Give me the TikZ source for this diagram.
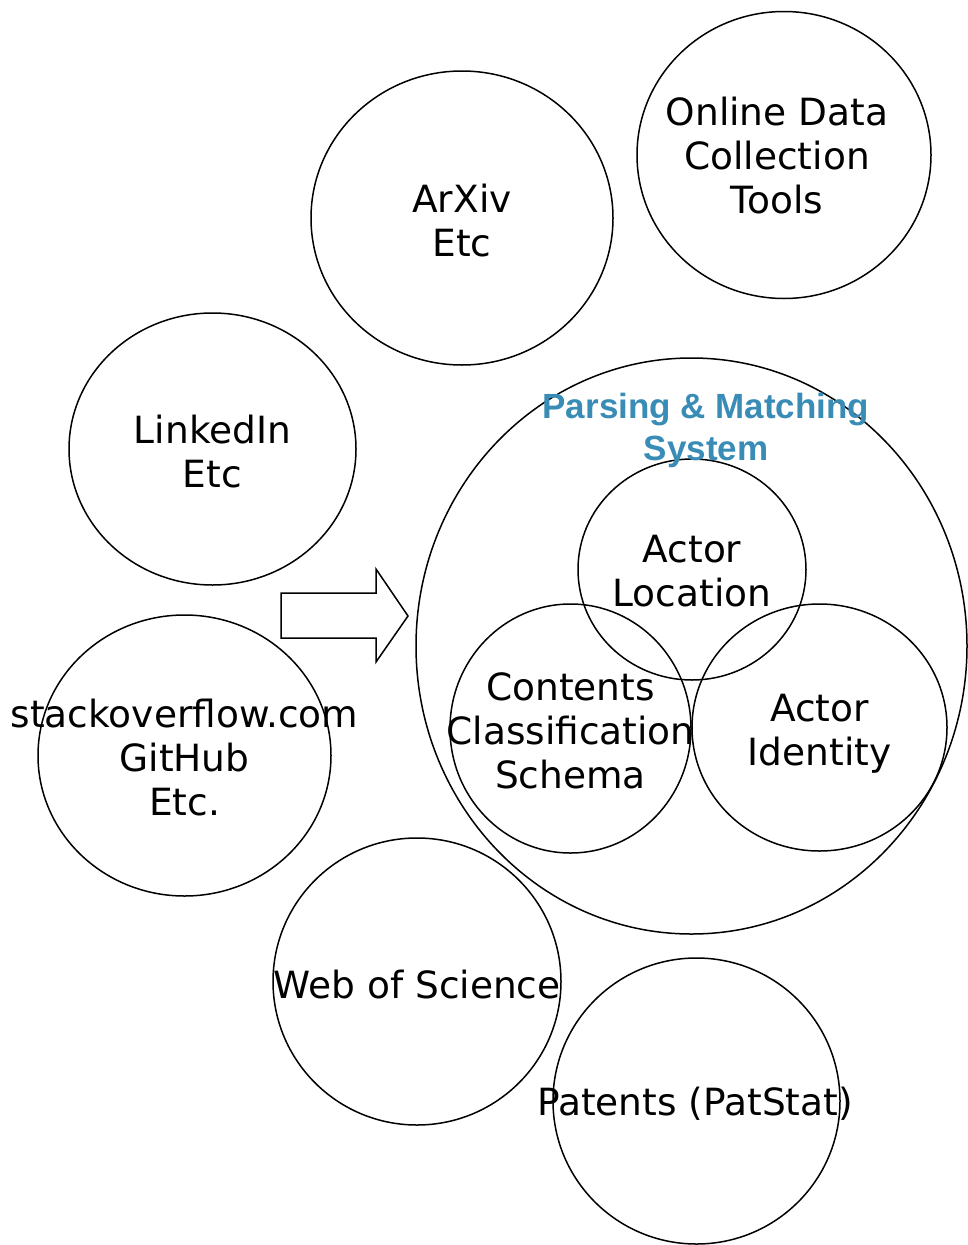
\documentclass[tikz,border=0pt]{standalone}
\usepackage{fontspec}
\setmainfont{DejaVu Sans}
\newfontfamily\headfont{Liberation Sans}
\usetikzlibrary{shapes.geometric}
\definecolor{headblue}{RGB}{57,140,181}
\tikzset{
	bubble/.style = {draw, ellipse, line width = 1.5pt, inner sep = 0pt},
	bubbletext/.style = {font = \fontsize{37.5}{44}\selectfont, align = center, inner sep = 0pt},
	headtext/.style = {font = \headfont\bfseries\fontsize{35}{42}\selectfont, text = headblue, align = center, inner sep = 0pt}
}
\begin{document}
\begin{tikzpicture}[x = 1pt, y = -1pt]
				\useasboundingbox (0, 0) rectangle (967, 1245);
				
				% circles
				\node[bubble, minimum width = 302, minimum height = 294] (arxiv) at (462, 218) {};
				\node[bubble, minimum width = 294, minimum height = 287] (online) at (784, 155) {};
				\node[bubble, minimum width = 287, minimum height = 272] (linkedin) at (212.5, 449) {};
				\node[bubble, minimum width = 293, minimum height = 281] (stack) at (184.5, 755.5) {};
				\node[bubble, minimum width = 551, minimum height = 576] (system) at (691.5, 646) {};
				\node[bubble, minimum width = 228, minimum height = 221] (location) at (692, 569.5) {};
				\node[bubble, minimum width = 241, minimum height = 249] (contents) at (570.5, 728.5) {};
				\node[bubble, minimum width = 255, minimum height = 247] (identity) at (819.5, 727.5) {};
				\node[bubble, minimum width = 288, minimum height = 287] (wos) at (417, 981.5) {};
				\node[bubble, minimum width = 287, minimum height = 286] (patents) at (696.5, 1101) {};
				
				% arrow
				\draw[line width = 1.5pt, line join = miter] (281, 593) -- (376, 593) -- (376, 569) -- (408, 616) -- (376, 662) -- (376, 638) -- (281, 638) -- cycle;
				
				% labels
				\node[bubbletext] (arxivtext) at ([yshift = -2.5] arxiv.center) {ArXiv\\Etc};
				\node[bubbletext] (onlinetext) at ([xshift = -7, yshift = -1] online.center) {Online Data\\Collection\\Tools};
				\node[bubbletext] (linkedintext) at ([yshift = -2.5] linkedin.center) {LinkedIn\\Etc};
				\node[bubbletext] (stacktext) at ([yshift = -2.5] stack.center) {stackoverflow.com\\GitHub\\Etc.};
				\node[bubbletext] (locationtext) at ([yshift = -2] location.center) {Actor\\Location};
				\node[bubbletext] (contentstext) at ([yshift = -2.5] contents.center) {Contents\\Classification\\Schema};
				\node[bubbletext] (identitytext) at ([yshift = -6.5] identity.center) {Actor\\Identity};
				\node[bubbletext] (wostext) at ([yshift = -3.5] wos.center) {Web of Science};
				\node[bubbletext] (patentstext) at ([xshift = -1.5, yshift = -3] patents.center) {Patents (PatStat)};
				\node[headtext] (systemtext) at (706, 430) {Parsing \& Matching\\System};
				
			\end{tikzpicture}
\end{document}
